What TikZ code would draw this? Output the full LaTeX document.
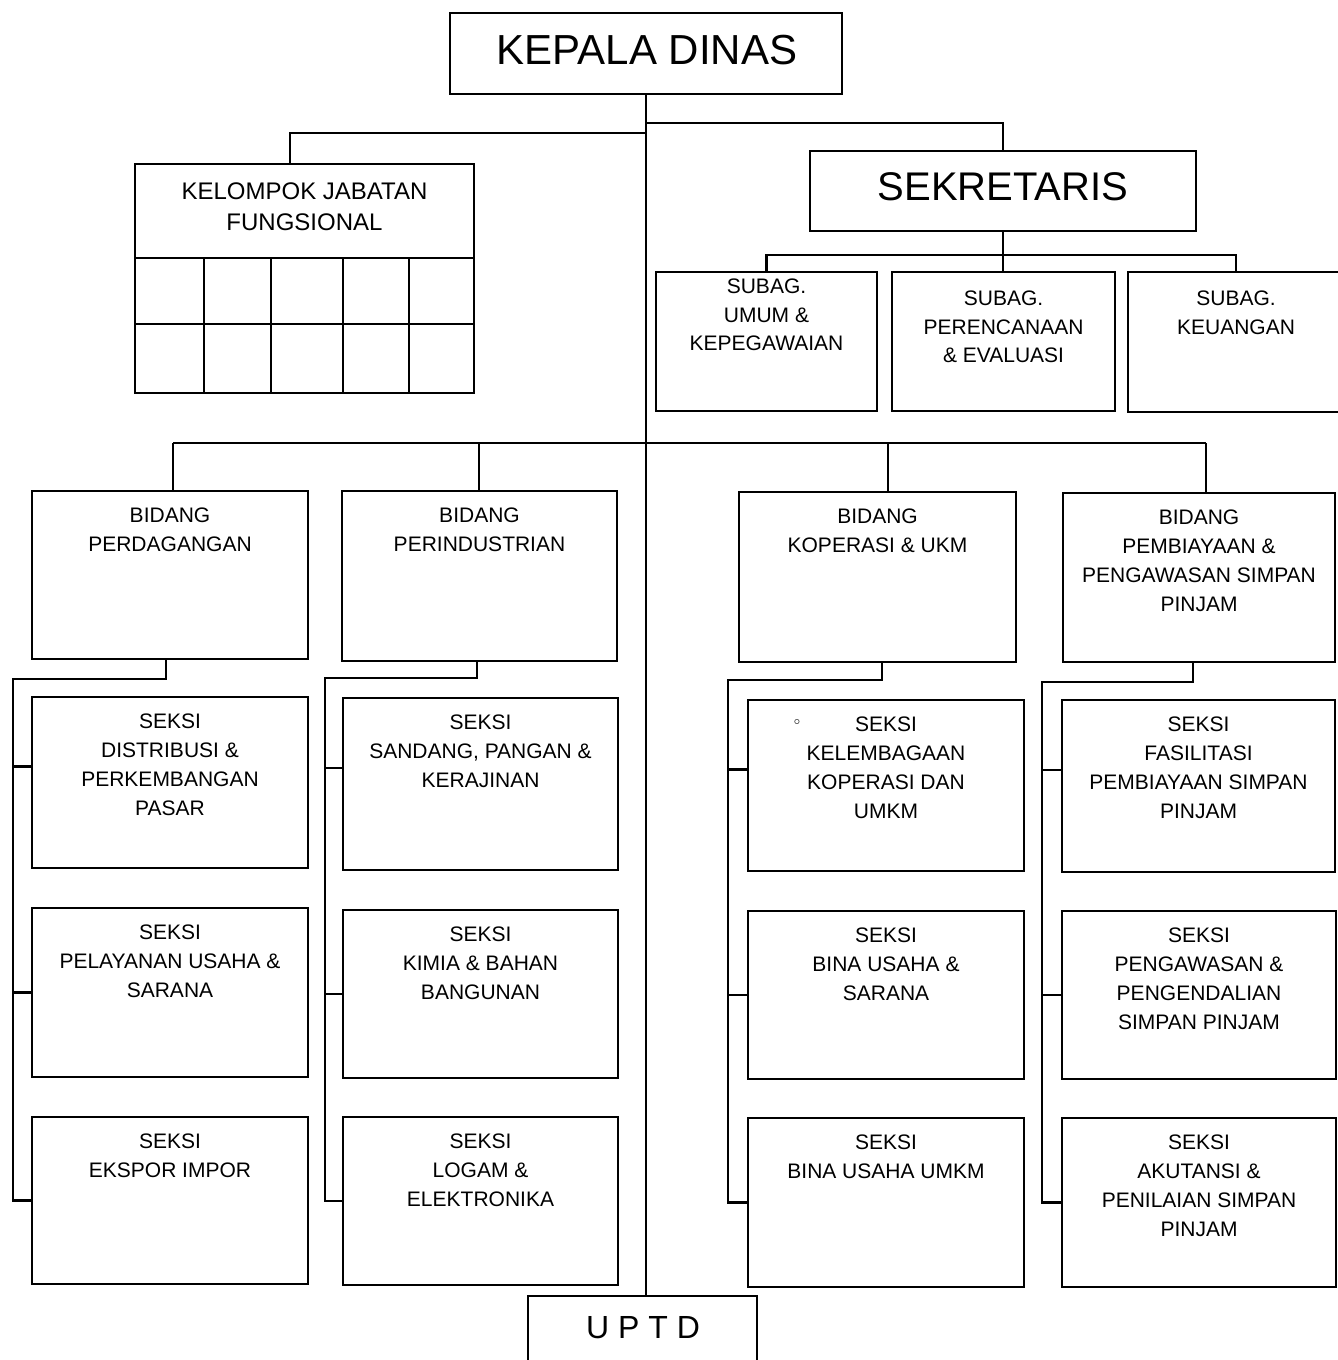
\documentclass[tikz,border=0pt]{standalone}
\usepackage{fontspec}
\setmainfont{Liberation Sans}
\usetikzlibrary{fit}
\tikzset{
  unit/.style={draw,line width=1.3pt,inner sep=0pt,outer sep=0pt},
  ttl/.style={anchor=north,align=center,inner sep=0pt,font=\fontsize{10.5}{14.5}\selectfont,yshift=-8.25pt},
  link/.style={line width=1.2pt},
}
\begin{document}
\begin{tikzpicture}[x=0.5pt,y=-0.5pt]
\clip (0,0) rectangle (1338,1360);

% top
\node[unit,fit={(450,13) (842,94)}] (kd) {};
\node[inner sep=0pt,font=\fontsize{21}{25}\selectfont] (kdt) at (647,50) {KEPALA DINAS};
\node[unit,fit={(810,151) (1196,231)}] (sek) {};
\node[inner sep=0pt,font=\fontsize{20}{24}\selectfont] (sekt) at (1003,187) {SEKRETARIS};

% jabatan fungsional
\node[unit,fit={(135,164) (474,393)}] (kjf) {};
\node[ttl,font=\fontsize{12}{15.5}\selectfont,yshift=-0.95pt] (kjft) at (kjf.north) {KELOMPOK JABATAN\\FUNGSIONAL};
\draw[link] (kjf.west |- 0,258) -- (kjf.east |- 0,258);
\draw[link] (kjf.west |- 0,324) -- (kjf.east |- 0,324);
\foreach \cx in {204,271,343,409}
  \draw[link] (\cx,258) -- (\cx,393);

% subbagian
\node[unit,fit={(656,272) (877,411)}] (sb1) {};
\node[ttl,font=\fontsize{10.5}{14.25}\selectfont,yshift=5pt] (sb1t) at (sb1.north) {SUBAG.\\UMUM \&\\KEPEGAWAIAN};
\node[unit,fit={(892,272) (1115,411)}] (sb2) {};
\node[ttl,font=\fontsize{10.5}{14.25}\selectfont,yshift=-1pt] (sb2t) at (sb2.north) {SUBAG.\\PERENCANAAN\\\& EVALUASI};
\node[unit,fit={(1128,272) (1344,412)}] (sb3) {};
\node[ttl,font=\fontsize{10.5}{14.25}\selectfont,yshift=-1pt] (sb3t) at (sb3.north) {SUBAG.\\KEUANGAN};

% bidang
\node[unit,fit={(32,491) (308,659)}] (bdag) {};
\node[ttl] (bdagt) at (bdag.north) {BIDANG\\PERDAGANGAN};
\node[unit,fit={(342,491) (617,661)}] (bind) {};
\node[ttl] (bindt) at (bind.north) {BIDANG\\PERINDUSTRIAN};
\node[unit,fit={(739,492) (1016,662)}] (bkop) {};
\node[ttl] (bkopt) at (bkop.north) {BIDANG\\KOPERASI \& UKM};
\node[unit,fit={(1063,493) (1335,662)}] (bpem) {};
\node[ttl] (bpemt) at (bpem.north) {BIDANG\\PEMBIAYAAN \&\\PENGAWASAN SIMPAN\\PINJAM};

% seksi
\node[unit,fit={(32,697) (308,868)}] (sdist) {};
\node[ttl] (sdistt) at (sdist.north) {SEKSI\\DISTRIBUSI \&\\PERKEMBANGAN\\PASAR};
\node[unit,fit={(32,908) (308,1077)}] (spel) {};
\node[ttl] (spelt) at (spel.north) {SEKSI\\PELAYANAN USAHA \&\\SARANA};
\node[unit,fit={(32,1117) (308,1284)}] (sexp) {};
\node[ttl] (sexpt) at (sexp.north) {SEKSI\\EKSPOR IMPOR};

\node[unit,fit={(343,698) (618,870)}] (ssand) {};
\node[ttl] (ssandt) at (ssand.north) {SEKSI\\SANDANG, PANGAN \&\\KERAJINAN};
\node[unit,fit={(343,910) (618,1078)}] (skim) {};
\node[ttl] (skimt) at (skim.north) {SEKSI\\KIMIA \& BAHAN\\BANGUNAN};
\node[unit,fit={(343,1117) (618,1285)}] (slog) {};
\node[ttl] (slogt) at (slog.north) {SEKSI\\LOGAM \&\\ELEKTRONIKA};

\node[unit,fit={(748,700) (1024,871)}] (skel) {};
\node[ttl] (skelt) at (skel.north) {SEKSI\\KELEMBAGAAN\\KOPERASI DAN\\UMKM};
\node[font=\tiny,inner sep=0pt] (mark) at (797,722) {$\circ$};
\node[unit,fit={(748,911) (1024,1079)}] (sbina) {};
\node[ttl] (sbinat) at (sbina.north) {SEKSI\\BINA USAHA \&\\SARANA};
\node[unit,fit={(748,1118) (1024,1287)}] (sumkm) {};
\node[ttl] (sumkmt) at (sumkm.north) {SEKSI\\BINA USAHA UMKM};

\node[unit,fit={(1062,700) (1335,872)}] (sfas) {};
\node[ttl] (sfast) at (sfas.north) {SEKSI\\FASILITASI\\PEMBIAYAAN SIMPAN\\PINJAM};
\node[unit,fit={(1062,911) (1336,1079)}] (speng) {};
\node[ttl] (spengt) at (speng.north) {SEKSI\\PENGAWASAN \&\\PENGENDALIAN\\SIMPAN PINJAM};
\node[unit,fit={(1062,1118) (1336,1287)}] (saku) {};
\node[ttl] (sakut) at (saku.north) {SEKSI\\AKUTANSI \&\\PENILAIAN SIMPAN\\PINJAM};

% uptd
\node[unit,fit={(528,1296) (757,1380)}] (uptd) {};
\node[inner sep=0pt,font=\fontsize{16}{19}\selectfont] (uptdt) at (643,1328) {U P T D};

% garis
\coordinate (jsek) at (0,123);
\coordinate (jkjf) at (290,133);
\coordinate (jsb) at (0,255);
\draw[link] (kd.south) -- (kd.south |- uptd.north);
\draw[link] (kd.south |- jsek) -| (sek.north);
\draw[link] (kd.south |- jkjf) -- (jkjf) -- (jkjf |- kjf.north);
\draw[link] (sek.south) -- (sek.south |- sb2.north);
\draw[link] (sb1.north) |- (sek.south |- jsb) -| (sb3.north);

\coordinate (jb1) at (173,443);
\coordinate (jb2) at (479,443);
\coordinate (jb3) at (888,443);
\coordinate (jb4) at (1206,443);
\draw[link] (jb1) -- (jb4);
\foreach \j/\b in {jb1/bdag,jb2/bind,jb3/bkop,jb4/bpem}
  \draw[link] (\j) -- (\j |- \b.north);

\coordinate (ja1) at (166,679);
\coordinate (sa1) at (13,679);
\coordinate (ja2) at (477,678);
\coordinate (sa2) at (325,678);
\coordinate (ja3) at (882,680);
\coordinate (sa3) at (728,680);
\coordinate (ja4) at (1193,682);
\coordinate (sa4) at (1042,682);
\foreach \j/\a/\b/\r in {ja1/sa1/bdag/sexp,ja2/sa2/bind/slog,ja3/sa3/bkop/sumkm,ja4/sa4/bpem/saku}
  \draw[link] (\j |- \b.south) -- (\j) -- (\a) |- (\r.west);
\foreach \a/\p/\q in {sa1/sdist/spel,sa2/ssand/skim,sa3/skel/sbina,sa4/sfas/speng}{
  \coordinate (t) at ([yshift=8pt]\p.west);
  \draw[link] (t) -- (t -| \a);
  \draw[link] (\q.west) -- (\q.west -| \a);
}
\end{tikzpicture}
\end{document}
